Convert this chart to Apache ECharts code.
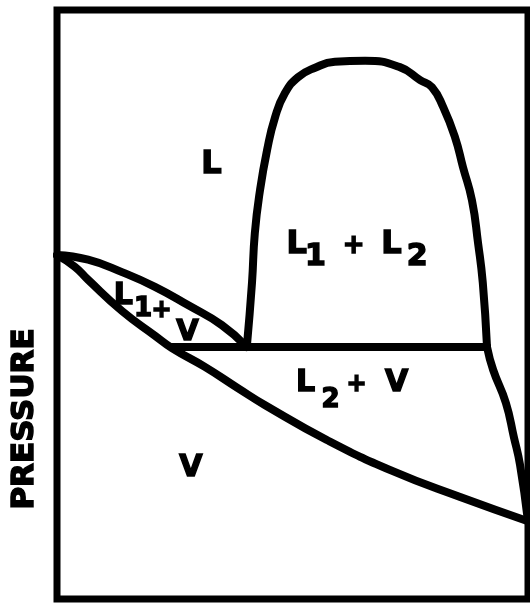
<!DOCTYPE html>
<html>
<head>
<meta charset="utf-8">
<style>
  html, body { margin: 0; padding: 0; background: #fff; }
  #chart { width: 530px; height: 605px; }
</style>
<script src="https://cdn.jsdelivr.net/npm/echarts@6/dist/echarts.min.js"></script>
</head>
<body>
<div id="chart"></div>
<script>
// Pressure–composition phase diagram with a liquid–liquid miscibility gap.
// x: composition (0–100), y: pressure (0–100).

// L1 bubble curve (upper edge of the L1 + V lens)
const l1BubbleCurve = [
  [0, 58.4], [6.6, 57.6], [13.8, 55.5], [20.8, 53.0],
  [27.8, 49.9], [35.0, 46.5], [40.3, 42.8]
];

// Dew curve (lower edge of the lens, continuing below the L2 + V region)
const dewCurve = [
  [0, 58.4], [3.8, 56.4], [6.6, 54.2], [13.8, 48.9], [20.8, 44.7],
  [24.4, 42.6], [31.4, 39.4], [38.4, 35.8], [44.2, 32.9], [57.3, 27.0],
  [71.3, 21.7], [85.6, 17.3], [100, 13.2]
];

// Three-phase line L1 + L2 + V
const threePhaseLine = [[24.4, 42.8], [91.3, 42.8]];

// Liquid–liquid coexistence dome (L1 + L2)
const miscibilityDome = [
  [40.3, 42.8], [41.4, 53.7], [42.0, 62.1], [43.1, 69.4], [44.6, 76.2],
  [46.3, 81.8], [48.4, 85.9], [51.2, 88.6], [54.8, 90.2], [59.0, 91.2],
  [65.4, 91.4], [72.8, 90.3], [77.1, 88.1], [79.6, 86.9], [82.0, 83.5],
  [84.5, 78.4], [86.2, 73.3], [88.1, 67.7], [89.4, 60.4], [90.4, 53.7],
  [91.3, 42.8]
];

// L2 bubble curve (right edge of the L2 + V region)
const l2BubbleCurve = [
  [91.3, 42.8], [92.6, 38.9], [95.3, 33.3], [97.0, 27.5], [98.3, 22.8], [100, 13.2]
];

// Region labels: text, x, y, font size
const regionText  = ['L',  'L',  '1',  '+',  'L',  '2',  'L',  '1',  '+',  'V',  'L',  '2',  '+',  'V',  'V'];
const regionX     = [32.9, 51.0, 55.0, 63.1, 71.1, 76.6, 14.2, 18.4, 22.3, 27.8, 52.9, 58.2, 63.7, 72.2, 28.5];
const regionY     = [73.7, 60.1, 57.9, 59.8, 60.1, 57.9, 51.4, 49.1, 48.9, 45.2, 36.5, 33.6, 36.3, 36.5, 22.2];
const regionSize  = [32,   32,   30,   26,   32,   30,   30,   26,   24,   29,   30,   26,   24,   30,   30];

const axisTitle = 'PRESSURE';

const FONT = '"DejaVu Sans", sans-serif';
const INK = '#000';

function curve(data, smooth) {
  return {
    type: 'line',
    data: data,
    smooth: smooth,
    symbol: 'none',
    silent: true,
    lineStyle: { color: INK, width: 8, cap: 'round', join: 'round' },
    z: 3
  };
}

const labelData = regionText.map((t, i) => ({
  value: [regionX[i], regionY[i]],
  label: {
    formatter: t,
    fontSize: regionSize[i]
  }
}));

const chart = echarts.init(document.getElementById('chart'), null, { renderer: 'canvas' });
chart.setOption({
  animation: false,
  backgroundColor: '#fff',
  grid: {
    left: 57, right: 2, top: 10, bottom: 6,
    show: true, borderColor: INK, borderWidth: 7, backgroundColor: 'transparent'
  },
  xAxis: {
    type: 'value', min: 0, max: 100,
    axisLine: { show: false }, axisTick: { show: false },
    axisLabel: { show: false }, splitLine: { show: false }
  },
  yAxis: {
    type: 'value', min: 0, max: 100,
    axisLine: { show: false }, axisTick: { show: false },
    axisLabel: { show: false }, splitLine: { show: false }
  },
  graphic: [{
    type: 'text',
    x: 25, y: 419,
    rotation: Math.PI / 2,
    style: {
      text: axisTitle,
      font: 'bold 31px ' + FONT,
      fill: INK,
      stroke: INK,
      lineWidth: 1.5,
      align: 'center',
      verticalAlign: 'middle'
    }
  }],
  series: [
    curve(l1BubbleCurve, 0.5),
    curve(dewCurve, 0.5),
    curve(threePhaseLine, false),
    curve(miscibilityDome, 0.5),
    curve(l2BubbleCurve, 0.5),
    {
      type: 'scatter',
      data: labelData,
      symbol: 'circle',
      symbolSize: 1,
      itemStyle: { color: '#fff', opacity: 1 },
      silent: true,
      z: 4,
      label: {
        show: true,
        position: [0, 0],
        align: 'center',
        verticalAlign: 'middle',
        fontWeight: 'bold',
        fontFamily: FONT,
        color: INK,
        opacity: 1,
        textBorderColor: INK,
        textBorderWidth: 1.5
      },
      emphasis: { disabled: true }
    }
  ]
});
</script>
</body>
</html>
